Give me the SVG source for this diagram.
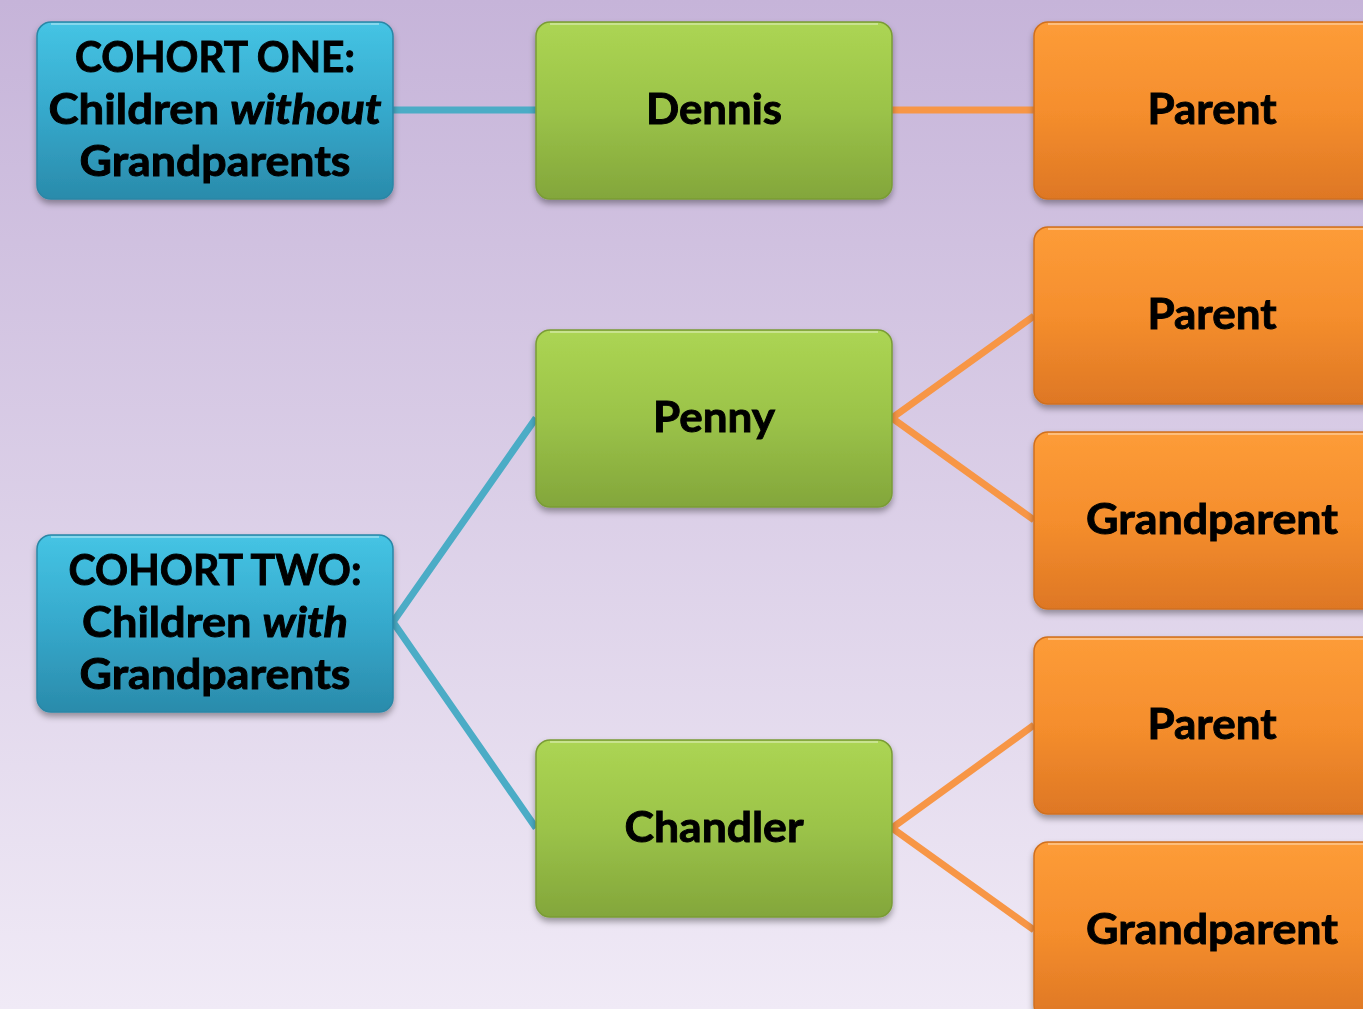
<svg xmlns="http://www.w3.org/2000/svg" width="1363" height="1009" viewBox="0 0 1363 1009">
<defs>
<linearGradient id="bg" x1="0" y1="0" x2="0" y2="1"><stop offset="0" stop-color="#c6b4d9"/><stop offset="1" stop-color="#f0eaf6"/></linearGradient>
<linearGradient id="gBlue" x1="0" y1="0" x2="0" y2="1"><stop offset="0" stop-color="#45c4e4"/><stop offset="0.5" stop-color="#36a9cc"/><stop offset="1" stop-color="#2a8bab"/></linearGradient>
<linearGradient id="gGreen" x1="0" y1="0" x2="0" y2="1"><stop offset="0" stop-color="#acd553"/><stop offset="0.5" stop-color="#9bc349"/><stop offset="1" stop-color="#83a63b"/></linearGradient>
<linearGradient id="gOrange" x1="0" y1="0" x2="0" y2="1"><stop offset="0" stop-color="#fd9c38"/><stop offset="0.5" stop-color="#f58e2d"/><stop offset="1" stop-color="#de7724"/></linearGradient>
<filter id="sh" x="-10%" y="-10%" width="120%" height="130%"><feDropShadow dx="0" dy="4" stdDeviation="3" flood-color="#000" flood-opacity="0.35"/></filter>
</defs>
<style>
.blue{fill:url(#gBlue);stroke:#2a87a6;stroke-width:1.5}
.green{fill:url(#gGreen);stroke:#7a9c36;stroke-width:1.5}
.orange{fill:url(#gOrange);stroke:#d0701f;stroke-width:1.5}
.hl{fill:none;stroke:#ffffff;stroke-opacity:0.35;stroke-width:2}
text{font-family:Lato,"Open Sans","Liberation Sans",sans-serif;font-weight:bold;font-size:42px;fill:#000;stroke:#000;stroke-width:0.9;text-anchor:middle}
.cb{stroke:#4bacc6;stroke-width:7;fill:none}
.co{stroke:#f79646;stroke-width:7;fill:none}
</style>
<rect x="0" y="0" width="1363" height="1009" fill="url(#bg)"/>
<g id="connectors">
<line class="cb" x1="393" y1="110" x2="536" y2="110"/>
<line class="co" x1="892" y1="110" x2="1034" y2="110"/>
<polyline class="cb" points="536,418 393,622 536,828"/>
<polyline class="co" points="1034,316 892,418 1034,520"/>
<polyline class="co" points="1034,725 892,828 1034,930"/>
</g>
<g id="cohort1" filter="url(#sh)"><rect class="blue" x="37" y="22" width="356" height="177" rx="14"/><path class="hl" d="M51,24 H379"/>
<text x="215" y="72" textLength="280" lengthAdjust="spacingAndGlyphs">COHORT ONE:</text>
<text x="215" y="124" textLength="333" lengthAdjust="spacingAndGlyphs">Children <tspan font-style="italic">without</tspan></text>
<text x="215" y="176" textLength="271" lengthAdjust="spacingAndGlyphs">Grandparents</text></g>
<g id="cohort2" filter="url(#sh)"><rect class="blue" x="37" y="535" width="356" height="177" rx="14"/><path class="hl" d="M51,537 H379"/>
<text x="215" y="585" textLength="293" lengthAdjust="spacingAndGlyphs">COHORT TWO:</text>
<text x="215" y="637" textLength="266" lengthAdjust="spacingAndGlyphs">Children <tspan font-style="italic">with</tspan></text>
<text x="215" y="689" textLength="271" lengthAdjust="spacingAndGlyphs">Grandparents</text></g>
<g id="dennis" filter="url(#sh)"><rect class="green" x="536" y="22" width="356" height="177" rx="14"/><path class="hl" d="M550,24 H878"/>
<text x="714" y="124" textLength="136" lengthAdjust="spacingAndGlyphs">Dennis</text></g>
<g id="penny" filter="url(#sh)"><rect class="green" x="536" y="330" width="356" height="177" rx="14"/><path class="hl" d="M550,332 H878"/>
<text x="714" y="432" textLength="122" lengthAdjust="spacingAndGlyphs">Penny</text></g>
<g id="chandler" filter="url(#sh)"><rect class="green" x="536" y="740" width="356" height="177" rx="14"/><path class="hl" d="M550,742 H878"/>
<text x="714" y="842" textLength="179" lengthAdjust="spacingAndGlyphs">Chandler</text></g>
<g id="parent1" filter="url(#sh)"><rect class="orange" x="1034" y="22" width="356" height="177" rx="14"/><path class="hl" d="M1048,24 H1376"/>
<text x="1212" y="124" textLength="129" lengthAdjust="spacingAndGlyphs">Parent</text></g>
<g id="parent2" filter="url(#sh)"><rect class="orange" x="1034" y="227" width="356" height="177" rx="14"/><path class="hl" d="M1048,229 H1376"/>
<text x="1212" y="329" textLength="129" lengthAdjust="spacingAndGlyphs">Parent</text></g>
<g id="grandparent1" filter="url(#sh)"><rect class="orange" x="1034" y="432" width="356" height="177" rx="14"/><path class="hl" d="M1048,434 H1376"/>
<text x="1212" y="534" textLength="252" lengthAdjust="spacingAndGlyphs">Grandparent</text></g>
<g id="parent3" filter="url(#sh)"><rect class="orange" x="1034" y="637" width="356" height="177" rx="14"/><path class="hl" d="M1048,639 H1376"/>
<text x="1212" y="739" textLength="129" lengthAdjust="spacingAndGlyphs">Parent</text></g>
<g id="grandparent2" filter="url(#sh)"><rect class="orange" x="1034" y="842" width="356" height="177" rx="14"/><path class="hl" d="M1048,844 H1376"/>
<text x="1212" y="944" textLength="252" lengthAdjust="spacingAndGlyphs">Grandparent</text></g>
</svg>
